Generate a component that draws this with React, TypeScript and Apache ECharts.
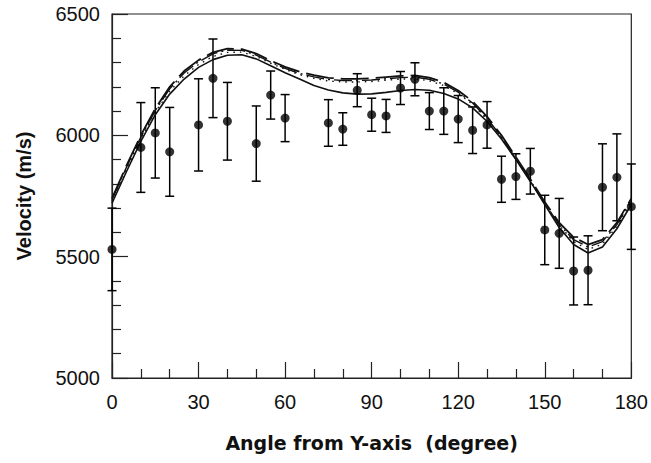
import React, { useEffect, useRef } from "react";
import * as echarts from "echarts";

// Measured data points (angle in degrees, velocity in m/s, error bar half-width)
const angles = [0, 10, 15, 20, 30, 35, 40, 50, 55, 60, 75, 80, 85, 90, 95, 100, 105, 110, 115, 120, 125, 130, 135, 140, 145, 150, 155, 160, 165, 170, 175, 180];
const velocity = [5530, 5950, 6010, 5932, 6043, 6235, 6058, 5966, 6166, 6071, 6051, 6026, 6186, 6085, 6080, 6195, 6231, 6100, 6100, 6067, 6021, 6043, 5819, 5830, 5852, 5610, 5596, 5441, 5444, 5786, 5827, 5706];
const errors = [170, 185, 186, 183, 190, 162, 160, 155, 99, 97, 96, 67, 68, 68, 68, 68, 68, 76, 96, 97, 96, 96, 95, 94, 94, 143, 144, 140, 142, 179, 179, 176];

// Model curves, every 5 degrees
const curveAngles = [0, 5, 10, 15, 20, 25, 30, 35, 40, 45, 50, 55, 60, 65, 70, 75, 80, 85, 90, 95, 100, 105, 110, 115, 120, 125, 130, 135, 140, 145, 150, 155, 160, 165, 170, 175, 180];
const solidCurve = [5720, 5850, 5975, 6085, 6170, 6232, 6280, 6312, 6330, 6332, 6315, 6287, 6258, 6232, 6205, 6187, 6175, 6170, 6171, 6177, 6185, 6189, 6186, 6172, 6150, 6113, 6057, 5985, 5900, 5810, 5715, 5620, 5550, 5515, 5540, 5615, 5715];
const longDashCurve = [5740, 5875, 6000, 6110, 6200, 6265, 6310, 6342, 6357, 6355, 6337, 6308, 6282, 6262, 6248, 6237, 6233, 6233, 6235, 6240, 6245, 6247, 6238, 6218, 6185, 6140, 6077, 6000, 5910, 5820, 5725, 5640, 5580, 5550, 5570, 5640, 5740];
const dashDotCurve = [5735, 5868, 5993, 6102, 6192, 6257, 6303, 6336, 6351, 6350, 6331, 6302, 6276, 6255, 6241, 6230, 6226, 6226, 6228, 6233, 6238, 6240, 6231, 6211, 6178, 6133, 6070, 5993, 5903, 5812, 5718, 5632, 5570, 5540, 5562, 5632, 5735];
const dottedCurve = [5728, 5860, 5985, 6095, 6182, 6245, 6292, 6325, 6342, 6343, 6325, 6297, 6272, 6250, 6235, 6224, 6220, 6220, 6222, 6227, 6232, 6233, 6225, 6205, 6172, 6128, 6065, 5990, 5903, 5813, 5720, 5630, 5562, 5530, 5552, 5625, 5725];

const xTicks = [0, 30, 60, 90, 120, 150, 180];
const yTicks = [5000, 5500, 6000, 6500];

const INK = "#111";
const FONT = "'Liberation Sans', Arial, Helvetica, sans-serif";

export default function App() {
  const ref = useRef<HTMLDivElement>(null);

  useEffect(() => {
    if (!ref.current) return;
    const chart = echarts.init(ref.current, null, { renderer: "svg" });

    const errData = angles.map((a, i) => [a, velocity[i] - errors[i], velocity[i] + errors[i]]);
    const pts = angles.map((a, i) => [a, velocity[i]]);
    const mk = (arr: number[]) => curveAngles.map((a, i) => [a, arr[i]]);

    const lineSeries = (name: string, arr: number[], type: any, width: number) => ({
      name,
      type: "line",
      data: mk(arr),
      showSymbol: false,
      symbol: "none",
      smooth: false,
      lineStyle: { color: INK, width, type },
      z: 3,
    });

    chart.setOption({
      animation: false,
      grid: {
        left: 112,
        right: 17,
        top: 14,
        bottom: 85,
        show: true,
        borderColor: "#222",
        borderWidth: 1.2,
        backgroundColor: "transparent",
      },
      xAxis: {
        type: "value",
        min: xTicks[0],
        max: xTicks[xTicks.length - 1],
        interval: 30,
        axisLine: { show: true, onZero: false, lineStyle: { color: "#222", width: 1.2 } },
        axisTick: { show: true, inside: true, length: 16, lineStyle: { color: "#222", width: 1.2 } },
        minorTick: { show: true, splitNumber: 3, length: 9, lineStyle: { color: "#222", width: 1.2 } },
        splitLine: { show: false },
        minorSplitLine: { show: false },
        axisLabel: { color: "#111", fontSize: 20, fontFamily: FONT, margin: 14, formatter: (v: number) => String(v) },
        name: "Angle from Y-axis  (degree)",
        nameLocation: "middle",
        nameGap: 55,
        nameTextStyle: { color: "#111", fontSize: 19, fontWeight: "bold", fontFamily: "'DejaVu Sans', sans-serif" },
      },
      yAxis: {
        type: "value",
        min: yTicks[0],
        max: yTicks[yTicks.length - 1],
        interval: 500,
        axisLine: { show: true, onZero: false, lineStyle: { color: "#222", width: 1.2 } },
        axisTick: { show: true, inside: true, length: 16, lineStyle: { color: "#222", width: 1.2 } },
        minorTick: { show: true, splitNumber: 5, length: 9, lineStyle: { color: "#222", width: 1.2 } },
        splitLine: { show: false },
        minorSplitLine: { show: false },
        axisLabel: { color: "#111", fontSize: 20, fontFamily: FONT, margin: 12, formatter: (v: number) => String(v) },
        name: "Velocity (m/s)",
        nameLocation: "middle",
        nameGap: 78,
        nameTextStyle: { color: "#111", fontSize: 20, fontWeight: "bold", fontFamily: FONT },
      },
      series: [
        {
          name: "error",
          type: "custom",
          data: errData,
          clip: false,
          encode: { x: 0, y: [1, 2] },
          z: 2,
          renderItem: (params: any, api: any) => {
            const x = api.value(0);
            const lo = api.coord([x, api.value(1)]);
            const hi = api.coord([x, api.value(2)]);
            const w = 4.5;
            const style = { stroke: "#000", lineWidth: 1.5, fill: "none" };
            return {
              type: "group",
              children: [
                { type: "line", shape: { x1: lo[0], y1: lo[1], x2: hi[0], y2: hi[1] }, style },
                { type: "line", shape: { x1: lo[0] - w, y1: lo[1], x2: lo[0] + w, y2: lo[1] }, style },
                { type: "line", shape: { x1: hi[0] - w, y1: hi[1], x2: hi[0] + w, y2: hi[1] }, style },
              ],
            };
          },
        },
        lineSeries("solid", solidCurve, "solid", 1.6),
        lineSeries("longdash", longDashCurve, [28, 7], 1.8),
        lineSeries("dashdot", dashDotCurve, [18, 4, 2, 4], 1.4),
        lineSeries("dotted", dottedCurve, [1.5, 5], 1.4),
        {
          name: "measured",
          type: "scatter",
          data: pts,
          symbol: "circle",
          symbolSize: 9,
          clip: false,
          itemStyle: { color: "#000" },
          z: 5,
        },
      ],
    });

    return () => chart.dispose();
  }, []);

  return (
    <div
      ref={ref}
      style={{ position: "fixed", left: 0, top: 0, width: 651, height: 463, background: "#fff" }}
    />
  );
}
